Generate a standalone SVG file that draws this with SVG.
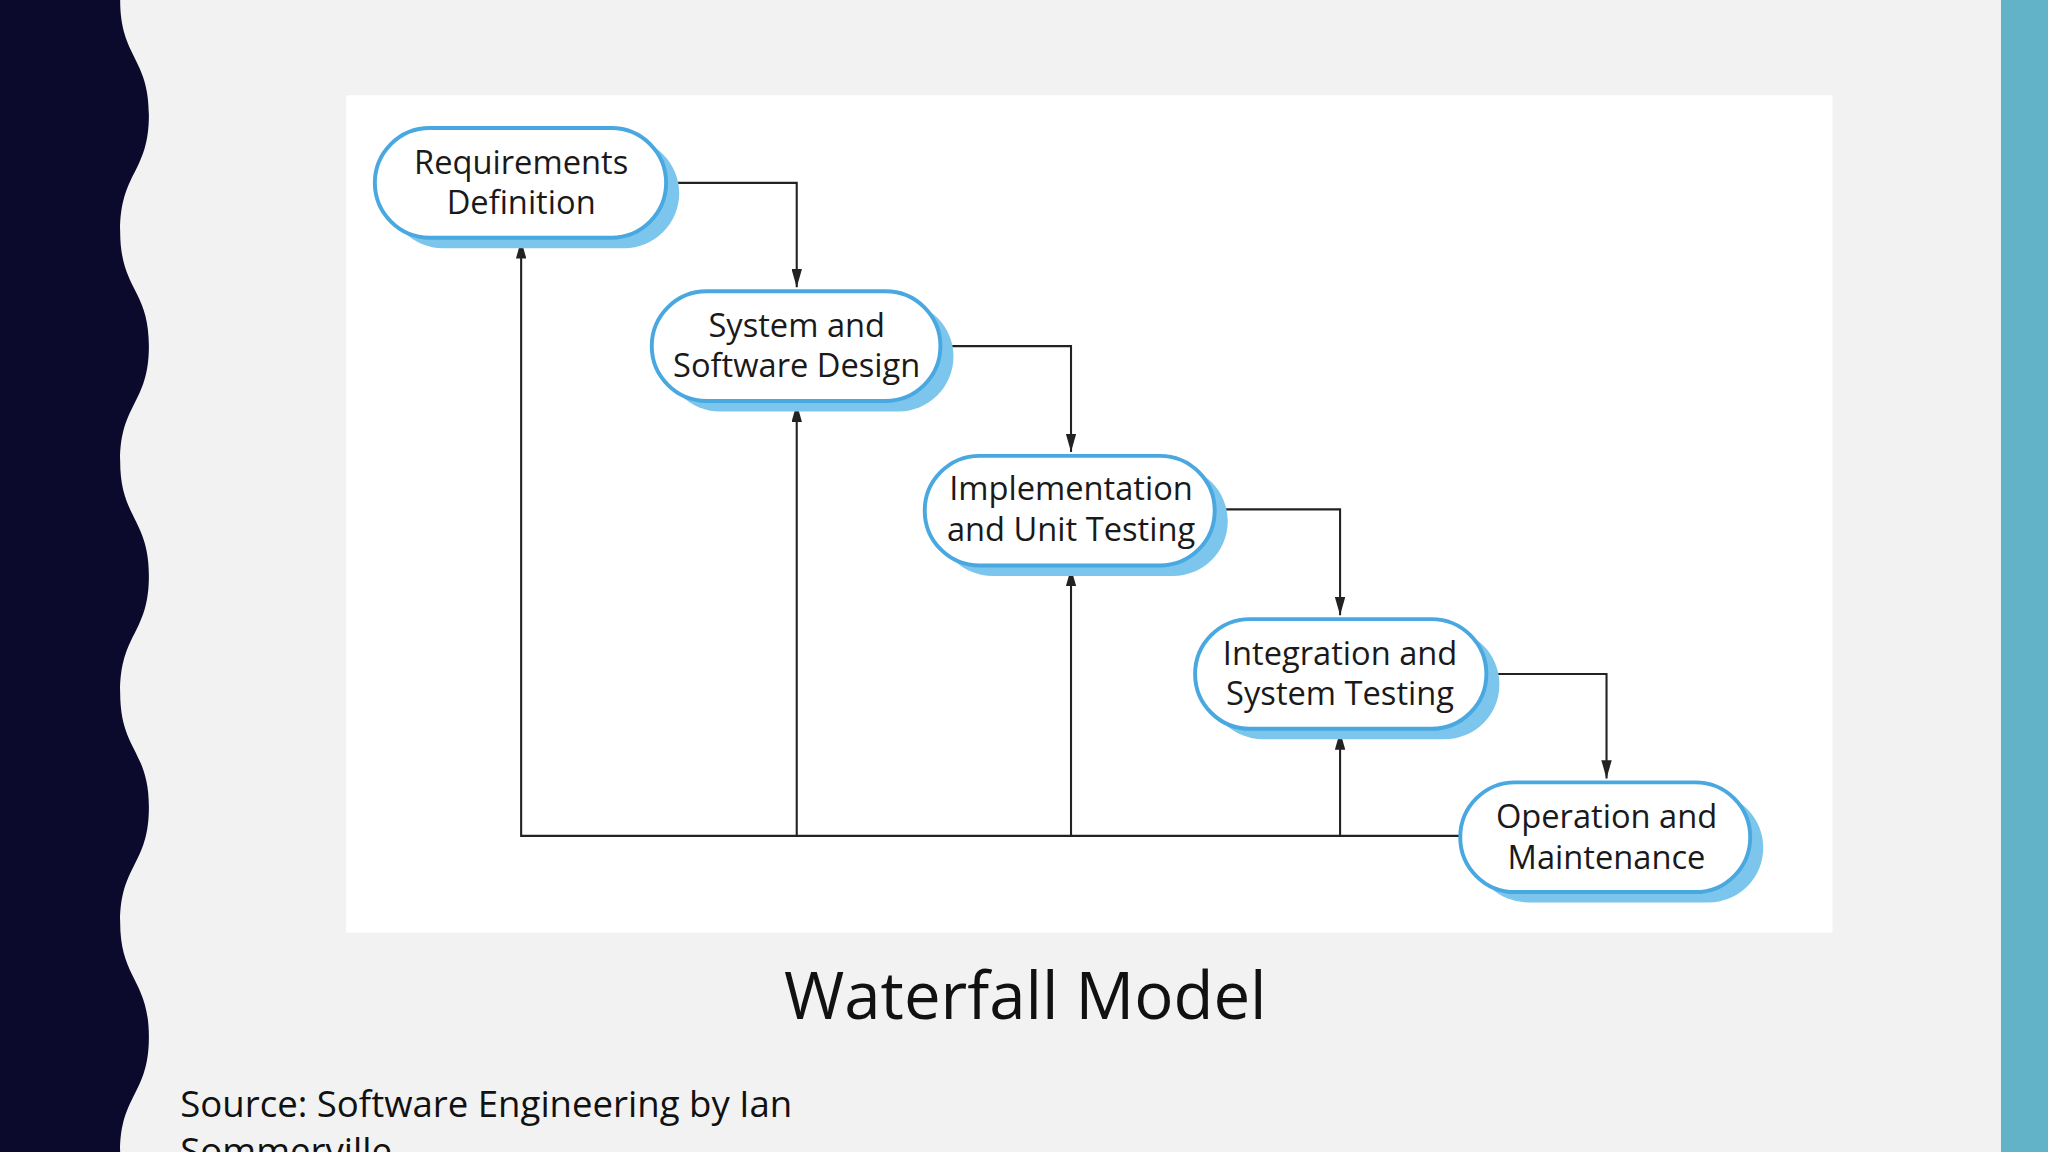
<svg xmlns="http://www.w3.org/2000/svg" width="2048" height="1152" viewBox="0 0 2048 1152">
<style>
.sh{fill:#7cc6ee}
.bx{fill:#fff;stroke:#4aa8e0;stroke-width:3}
.t{font-family:"Open Sans","Noto Sans",sans-serif;font-size:25px;fill:#1a1a1a;text-anchor:middle}
.ln{fill:none;stroke:#222;stroke-width:1.6}
</style>
<defs><marker id="a" viewBox="0 0 10 10" refX="10" refY="5" markerWidth="14" markerHeight="8" orient="auto" markerUnits="userSpaceOnUse" preserveAspectRatio="none"><path d="M0,0L10,5L0,10z" fill="#222"/></marker></defs>
<rect width="2048" height="1152" fill="#f2f2f2"/>
<g transform="scale(1.30612)">
<path d="M0,0 L92,0 C92,44 114,44 114,88 S92,132 92,177 S114,221 114,265 S92,309 92,353 S114,397 114,441 S92,485 92,530 S114,574 114,618 S92,662 92,706 S114,750 114,794 S92,838 92,882 L0,882z" fill="#0c0a2c"/>
<rect x="1532" y="0" width="36" height="882" fill="#62b3c8"/>
<rect x="265" y="73" width="1138" height="641" fill="#fff"/>
<g id="connectors">
<path class="ln" d="M510,140H610V220" marker-end="url(#a)"/>
<path class="ln" d="M720,265H820V346" marker-end="url(#a)"/>
<path class="ln" d="M930,390H1026V471" marker-end="url(#a)"/>
<path class="ln" d="M1138,516H1230V596" marker-end="url(#a)"/>
<path class="ln" d="M1118,640H399V184" marker-end="url(#a)"/>
<path class="ln" d="M610,640V309" marker-end="url(#a)"/>
<path class="ln" d="M820,640V435" marker-end="url(#a)"/>
<path class="ln" d="M1026,640V560" marker-end="url(#a)"/>
</g>
<g id="n1"><rect class="sh" x="297" y="106" width="223" height="84" rx="42"/><rect class="bx" x="287" y="98" width="223" height="84" rx="42"/><text class="t" x="399" y="133">Requirements</text><text class="t" x="399" y="164">Definition</text></g>
<g id="n2"><rect class="sh" x="509" y="231" width="221" height="84" rx="42"/><rect class="bx" x="499" y="223" width="221" height="84" rx="42"/><text class="t" x="610" y="258">System and</text><text class="t" x="610" y="289">Software Design</text></g>
<g id="n3"><rect class="sh" x="718" y="357" width="222" height="84" rx="42"/><rect class="bx" x="708" y="349" width="222" height="84" rx="42"/><text class="t" x="820" y="383">Implementation</text><text class="t" x="820" y="414">and Unit Testing</text></g>
<g id="n4"><rect class="sh" x="925" y="482" width="223" height="84" rx="42"/><rect class="bx" x="915" y="474" width="223" height="84" rx="42"/><text class="t" x="1026" y="509">Integration and</text><text class="t" x="1026" y="540">System Testing</text></g>
<g id="n5"><rect class="sh" x="1128" y="607" width="222" height="84" rx="42"/><rect class="bx" x="1118" y="599" width="222" height="84" rx="42"/><text class="t" x="1230" y="634">Operation and</text><text class="t" x="1230" y="665">Maintenance</text></g>
<text x="785" y="780" font-family="Open Sans,Noto Sans,sans-serif" font-size="50" fill="#111" text-anchor="middle">Waterfall Model</text>
<text font-family="Open Sans,Noto Sans,sans-serif" font-size="28" fill="#111"><tspan x="138" y="855">Source: Software Engineering by Ian</tspan><tspan x="138" y="891">Sommerville</tspan></text>
</g>
</svg>
